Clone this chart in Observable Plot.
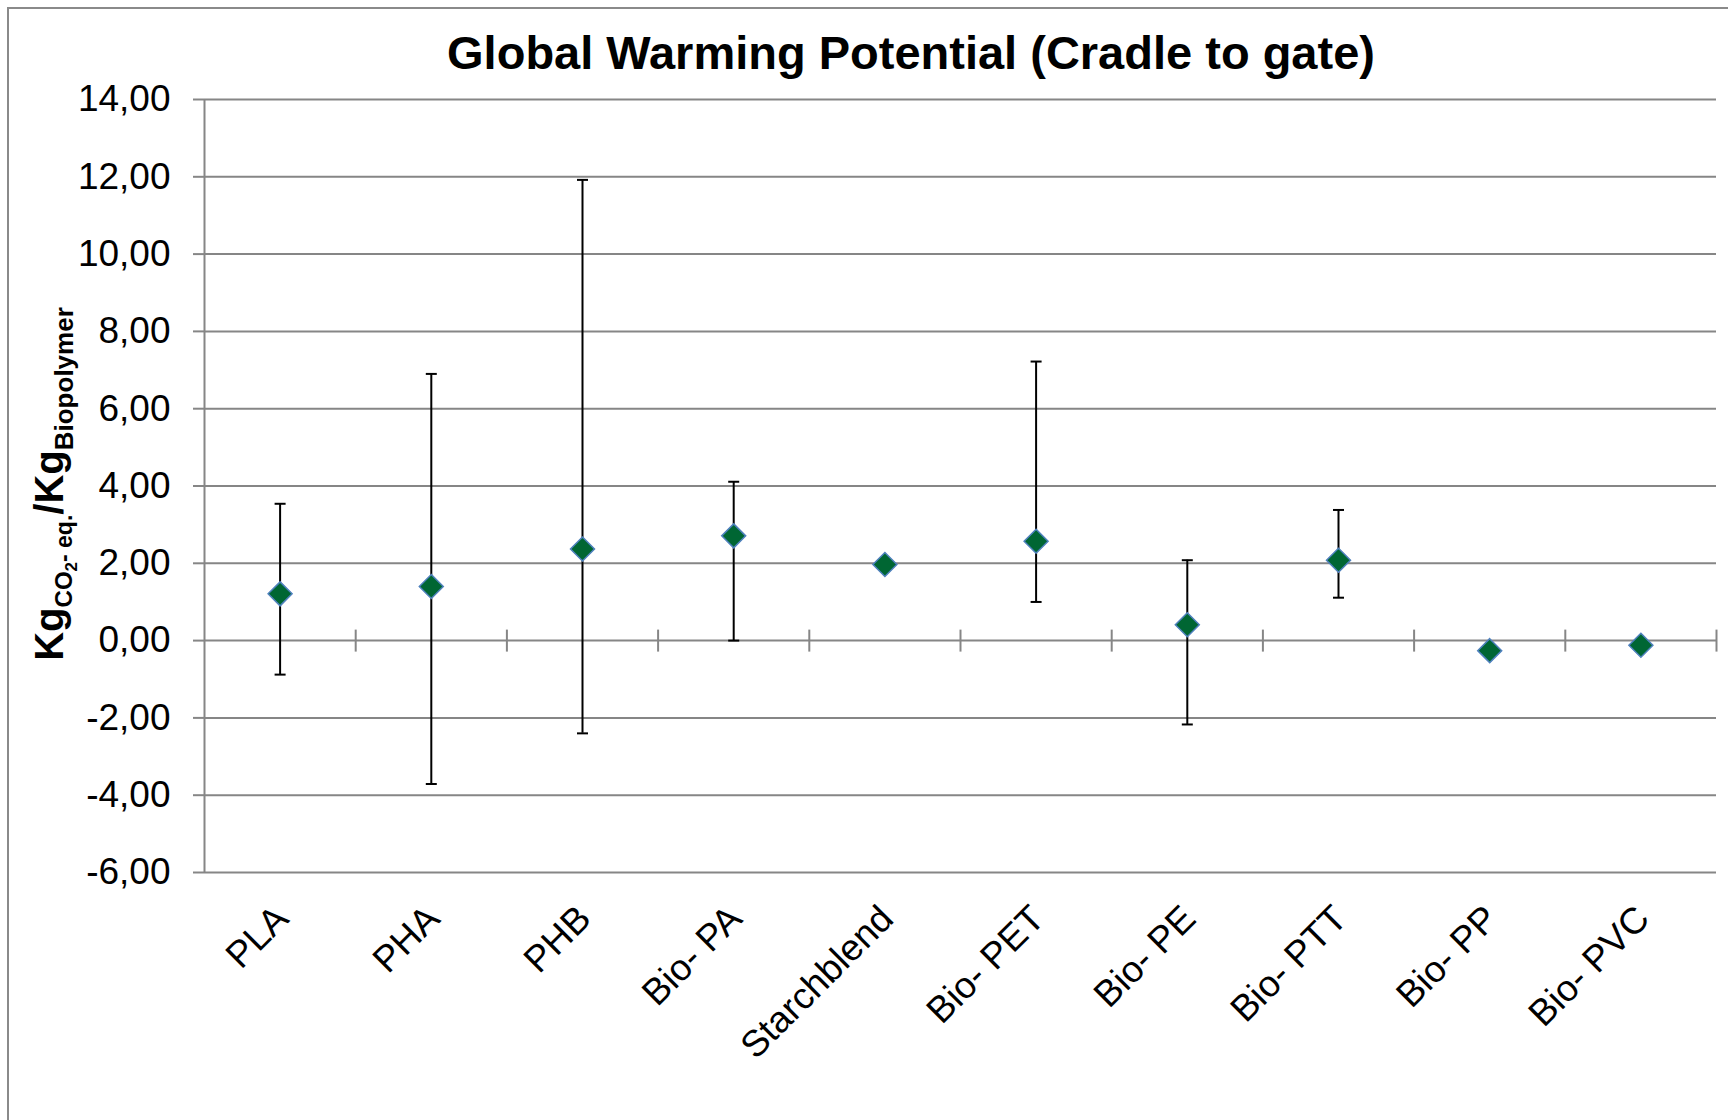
<!DOCTYPE html>
<html>
<head>
<meta charset="utf-8">
<script src="https://cdn.jsdelivr.net/npm/d3@7"></script>
<script src="https://cdn.jsdelivr.net/npm/@observablehq/plot@0.6"></script>
<style>
  html, body { margin: 0; padding: 0; background: #ffffff; }
  #wrap { position: relative; width: 1728px; height: 1120px; overflow: hidden; font-family: "Liberation Sans", Arial, sans-serif; }
  #border { position: absolute; left: 7px; top: 7px; width: 1800px; height: 1200px; border-left: 2px solid #8a8a8a; border-top: 2px solid #8a8a8a; }
  #title { position: absolute; left: 911px; top: 29px; transform: translateX(-50%); font-size: 47px; line-height: 1; font-weight: bold; white-space: nowrap; color: #000; }
  #chart { position: absolute; left: 0; top: 0; }
</style>
</head>
<body>
<div id="wrap">
  <div id="border"></div>
  <div id="chart"></div>
  <div id="title">Global Warming Potential (Cradle to gate)</div>
</div>
<script>
// ---- data ----
const categories = ["PLA", "PHA", "PHB", "Bio- PA", "Starchblend", "Bio- PET", "Bio- PE", "Bio- PTT", "Bio- PP", "Bio- PVC"];
const values = [1.21, 1.40, 2.37, 2.71, 1.97, 2.57, 0.41, 2.08, -0.26, -0.12];
const upper  = [3.54, 6.90, 11.92, 4.11, null, 7.22, 2.08, 3.38, null, null];
const lower  = [-0.88, -3.71, -2.40, 0.00, null, 1.00, -2.17, 1.11, null, null];
const yTicks = [-6, -4, -2, 0, 2, 4, 6, 8, 10, 12, 14];

const data = categories.map((c, k) => ({cat: c, i: k + 1, v: values[k], lo: lower[k], hi: upper[k]}));
const bars = data.filter(d => d.lo != null && d.hi != null);
const bounds = categories.map((c, k) => k + 1.5);
const xDomain = [0.5, categories.length + 0.5];

const hLine = {draw(ctx, size) { const r = Math.sqrt(size / Math.PI); ctx.moveTo(-r, 0); ctx.lineTo(r, 0); }};
const vLine = {draw(ctx, size) { const r = Math.sqrt(size / Math.PI); ctx.moveTo(0, -r); ctx.lineTo(0, r); }};

const fmt = d => d.toFixed(2).replace(".", ",");
const gray = "#868686";

const plot = Plot.plot({
  width: 1728,
  height: 1120,
  marginLeft: 204,
  marginRight: 12,
  marginTop: 99,
  marginBottom: 248,
  style: {fontFamily: "'Liberation Sans', Arial, sans-serif", background: "transparent", color: "#000", overflow: "visible"},
  x: {domain: xDomain, axis: null},
  y: {domain: [yTicks[0], yTicks[yTicks.length - 1]], axis: null},
  marks: [
    Plot.gridY(yTicks, {stroke: gray, strokeOpacity: 1, strokeWidth: 2}),
    Plot.axisY(yTicks, {tickSize: 11, tickPadding: 23, fontSize: 37, tickFormat: fmt, stroke: gray, strokeWidth: 2, fill: "#000", label: null}),
    Plot.ruleX([xDomain[0]], {stroke: gray, strokeWidth: 2}),
    Plot.dot(bounds, {x: d => d, y: 0, symbol: vLine, r: 11, stroke: gray, strokeWidth: 2}),
    Plot.ruleX(bars, {x: "i", y1: "lo", y2: "hi", stroke: "#000", strokeWidth: 2}),
    Plot.dot(bars, {x: "i", y: "hi", symbol: hLine, r: 5.5, stroke: "#000", strokeWidth: 2}),
    Plot.dot(bars, {x: "i", y: "lo", symbol: hLine, r: 5.5, stroke: "#000", strokeWidth: 2}),
    Plot.dot(data, {x: "i", y: "v", symbol: "diamond2", r: 10.8, fill: "#006633", stroke: "#4F81BD", strokeWidth: 1.5}),
    Plot.text(data, {x: "i", text: "cat", frameAnchor: "bottom", rotate: -45, textAnchor: "end", lineAnchor: "middle", dx: 2, dy: 40, fontSize: 37, fill: "#000"})
  ]
});
document.getElementById("chart").appendChild(plot);

// y-axis label with subscripts
const svg = d3.select(plot);
const lab = svg.append("text")
  .attr("transform", "translate(63,484) rotate(-90)")
  .attr("text-anchor", "middle")
  .attr("font-weight", "bold")
  .attr("font-family", "'Liberation Sans', Arial, sans-serif")
  .attr("fill", "#000");
lab.append("tspan").attr("font-size", 40).text("Kg");
lab.append("tspan").attr("font-size", 24).attr("dy", 9).text("CO");
lab.append("tspan").attr("font-size", 17).attr("dy", 5).text("2");
lab.append("tspan").attr("font-size", 23).attr("dy", -5).text("- eq.");
lab.append("tspan").attr("font-size", 40).attr("dy", -9).text("/Kg");
lab.append("tspan").attr("font-size", 26).attr("dy", 10).text("Biopolymer");
</script>
</body>
</html>
